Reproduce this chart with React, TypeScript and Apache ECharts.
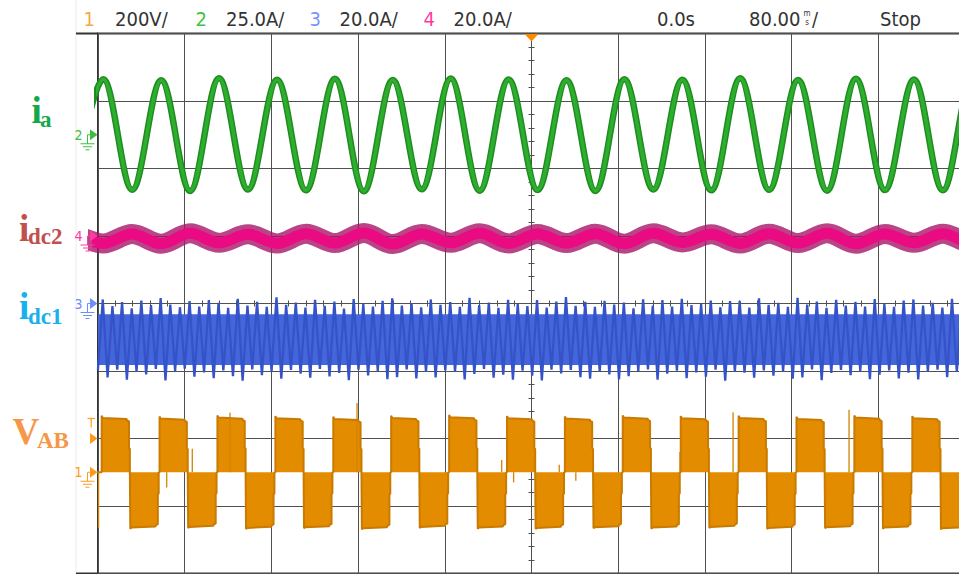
import React, { useEffect, useRef } from "react";
import * as echarts from "echarts";

// ---------- header readouts ----------
const channelNumbers = ["1", "2", "3", "4"];
const channelScaleTexts = ["200V/", "25.0A/", "20.0A/", "20.0A/"];
const triggerTimeText = "0.0s";
const timebaseText = "80.00";
const runStateText = "Stop";

// ---------- channel settings (volts/amps per division, ground offset in divisions) ----------
const scaleVAB = 200;
const scaleIa = 25;
const scaleIdc1 = 20;
const scaleIdc2 = 20;
const offsetVAB = -2.5;
const offsetIa = 2.5;
const offsetIdc1 = 0;
const offsetIdc2 = 1;
const triggerLevelDiv = -2.0;

// ---------- time axis (ms) ----------
const timeMin = -400;
const timeMax = 400;
const timeDiv = 80;

// start of every fundamental cycle (rising edge of the positive VAB pulse), ms
const cycleStarts = [-396.6, -343.2, -289.8, -236.3, -182.9, -129.5, -76.0, -22.6, 30.8, 84.2, 137.7, 191.1, 244.5, 297.9, 351.4, 404.8];

// ---------- ia (A) ----------
const iaPeakTimes = [-395.1, -341.7, -288.3, -234.8, -181.4, -128.0, -74.5, -21.1, 32.3, 85.7, 139.2, 192.6, 246.0, 299.4, 352.9, 406.3];
const iaTroughTimes = [-422.1, -368.4, -315.0, -261.6, -208.1, -154.7, -101.3, -47.8, 5.6, 59.0, 112.4, 165.9, 219.3, 272.7, 326.1, 379.6, 433.0];
const iaPeaks = [20.6, 20.2, 20.9, 20.4, 20.7, 20.3, 20.8, 20.5, 20.2, 20.6, 20.4, 20.9, 20.3, 20.7, 20.5, 20.4];
const iaTroughs = [-20.5, -20.4, -20.8, -20.3, -20.6, -20.9, -20.2, -20.7, -20.5, -20.8, -20.3, -20.6, -20.4, -20.7, -20.5, -20.6, -20.3];

// ---------- idc2 (A): crests at ia troughs, dips at ia peaks ----------
const idc2Dips = [-2.2, -2.3, -2.0, -2.2, -2.1, -2.4, -2.0, -2.2, -2.1, -2.3, -1.9, -2.2, -2.1, -2.3, -2.0, -2.1];
const idc2Crests = [0.7, 0.6, 0.8, 0.5, 0.7, 0.9, 0.6, 0.8, 0.6, 0.7, 0.8, 0.5, 0.7, 0.8, 0.6, 0.7, 0.6];

// ---------- idc1 (A): six ripple periods per fundamental cycle ----------
const idc1SubTimes = [1.0, 9.9, 18.8, 27.7, 36.6, 45.5];
const idc1HalfRipple = 4.45;
const idc1Tops = [
  [1.2, -0.8, 0.4, -1.4, 0.9, -0.5],
  [1.6, -0.3, -1.1, 0.7, -0.9, 1.0],
  [0.2, -1.3, 1.4, -0.6, 0.5, -1.0],
  [1.8, -0.4, 0.3, -1.2, 1.1, -0.7],
  [0.6, -1.5, 1.3, -0.2, -0.9, 0.8],
  [1.5, -0.6, 0.1, -1.1, 1.2, -0.4],
  [0.4, -1.0, 1.7, -0.5, 0.3, -1.3],
  [1.1, -0.2, -0.8, 1.0, -1.2, 0.6],
  [1.9, -0.7, 0.5, -1.0, 0.8, -0.3],
  [0.3, -1.4, 1.2, -0.6, 1.0, -0.9],
  [1.4, -0.5, -0.2, 0.9, -1.1, 0.7],
  [0.8, -1.2, 1.5, -0.4, 0.2, -1.0],
  [1.7, -0.3, 0.6, -1.3, 1.1, -0.6],
  [0.5, -0.9, 1.3, -0.2, -1.0, 0.9],
  [1.2, -0.6, 0.2, -1.2, 1.4, -0.5],
  [0.7, -1.1, 1.0, -0.4, 0.6, -0.8],
];
const idc1Bottoms = [
  [-21.9, -19.6, -22.6, -20.2, -21.0, -19.4],
  [-22.8, -20.0, -19.3, -21.7, -20.4, -22.1],
  [-19.8, -21.5, -22.9, -19.5, -21.2, -20.1],
  [-22.3, -19.7, -20.8, -22.0, -19.4, -21.6],
  [-20.6, -22.7, -19.6, -21.3, -20.0, -22.4],
  [-21.8, -19.5, -22.2, -20.3, -21.9, -19.8],
  [-20.2, -22.5, -20.9, -19.4, -22.0, -21.1],
  [-22.6, -19.9, -21.4, -22.8, -19.6, -20.7],
  [-19.7, -21.8, -22.3, -20.1, -21.0, -22.5],
  [-21.5, -20.0, -19.5, -22.6, -20.8, -19.9],
  [-22.1, -20.4, -21.7, -19.6, -22.9, -20.2],
  [-20.5, -22.0, -19.8, -21.4, -20.1, -22.3],
  [-21.9, -19.5, -22.7, -20.6, -19.7, -21.2],
  [-20.0, -22.4, -21.1, -19.8, -22.2, -20.5],
  [-22.5, -20.2, -19.6, -21.8, -20.3, -22.0],
  [-19.9, -21.6, -22.1, -20.4, -21.3, -19.7],
];
// solid middle of the idc1 ripple band: [top A, bottom A]
const idc1Core = [[-3.2, -18.2]];

// ---------- VAB (V) ----------
const vabPosTop = [161, 159, 162, 160, 158, 161, 163, 160, 159, 162, 160, 161, 158, 162, 160, 161];
const vabNegBottom = [-164, -162, -165, -163, -166, -162, -164, -165, -163, -164, -162, -165, -163, -164, -166, -163];
// pulse outline: [ms after cycle start, fraction of the pulse level]
const vabPosShape = [[0, 0], [0, 1.04], [1.0, 1.0], [23.0, 0.98], [23.5, 0.95], [25.2, 0.94], [25.2, 0.45], [26.0, 0.43], [26.0, 0]];
const vabNegShape = [[26.4, 0], [26.4, 1.02], [27.4, 1.0], [49.6, 0.98], [50.1, 0.95], [51.8, 0.94], [51.8, 0.4], [52.6, 0.38], [52.6, 0]];
// switching spikes: [ms, V]
const vabSpikes = [[-399.5, -166], [-336.6, -45], [-313.0, 70], [-278.2, 176], [-161.0, 205], [-27.5, 36], [-16.5, -30], [25.6, 22], [40.9, -25], [137.0, 60], [186.0, 178], [293.0, 185]];

// ---------- styling ----------
const GRID = "#505050";
const HEADER_FONT = '"DejaVu Sans Condensed", "Liberation Sans Narrow", "Roboto Condensed", sans-serif';
const SERIF = '"Liberation Serif", "Times New Roman", serif';

function buildSeriesData() {
  const ia: number[][] = [[iaTroughTimes[0], iaTroughs[0]]];
  const idc2: number[][] = [[iaTroughTimes[0], idc2Crests[0]]];
  for (let k = 0; k < iaPeakTimes.length; k++) {
    ia.push([iaPeakTimes[k], iaPeaks[k]]);
    ia.push([iaTroughTimes[k + 1], iaTroughs[k + 1]]);
    idc2.push([iaPeakTimes[k], idc2Dips[k]]);
    idc2.push([iaTroughTimes[k + 1], idc2Crests[k + 1]]);
  }
  const idc1: number[][] = [[cycleStarts[0] + idc1SubTimes[0] - idc1HalfRipple, idc1Bottoms[15][5]]];
  cycleStarts.forEach((c, k) => {
    idc1SubTimes.forEach((dt, j) => {
      idc1.push([c + dt, idc1Tops[k][j]]);
      idc1.push([c + dt + idc1HalfRipple, idc1Bottoms[k][j]]);
    });
  });
  const vab: number[][] = [[timeMin - 10, 0]];
  cycleStarts.forEach((c, k) => {
    vabPosShape.forEach(([dt, f]) => vab.push([c + dt, f * vabPosTop[k]]));
    vabNegShape.forEach(([dt, f]) => vab.push([c + dt, f * vabNegBottom[k]]));
  });
  return { ia, idc2, idc1, vab };
}

function chAxis(offset: number, scale: number) {
  return { type: "value", min: (-4 - offset) * scale, max: (4 - offset) * scale, show: false, splitLine: { show: false } };
}

function buildOption(): any {
  const d = buildSeriesData();
  const tickStyle = { color: GRID, width: 1 };
  const xBase = { type: "value", min: timeMin, max: timeMax, interval: timeDiv, axisLabel: { show: false } };
  const yBase = { type: "value", min: -4, max: 4, interval: 1, axisLabel: { show: false } };
  return {
    animation: false,
    backgroundColor: "#ffffff",
    grid: {
      left: 98, top: 33.5, width: 867, height: 540,
      show: true, borderColor: "#333", borderWidth: 2, backgroundColor: "transparent",
      outerBoundsMode: "none", containLabel: false,
    },
    xAxis: [
      {
        ...xBase, position: "bottom",
        axisLine: { show: true, onZero: true, onZeroAxisIndex: 0, lineStyle: tickStyle },
        axisTick: { show: true, inside: true, length: 3, lineStyle: tickStyle },
        minorTick: { show: true, splitNumber: 5, length: 3, lineStyle: tickStyle },
        splitLine: { show: true, lineStyle: { color: GRID, width: 1 } },
      },
      {
        ...xBase, position: "bottom",
        axisLine: { show: false, onZero: true, onZeroAxisIndex: 0 },
        axisTick: { show: true, inside: false, length: 3, lineStyle: tickStyle },
        minorTick: { show: true, splitNumber: 5, length: 3, lineStyle: tickStyle },
        splitLine: { show: false },
      },
    ],
    yAxis: [
      {
        ...yBase, position: "left",
        axisLine: { show: true, onZero: true, onZeroAxisIndex: 0, lineStyle: tickStyle },
        axisTick: { show: true, inside: true, length: 3, lineStyle: tickStyle },
        minorTick: { show: true, splitNumber: 5, length: 3, lineStyle: tickStyle },
        splitLine: { show: true, lineStyle: { color: GRID, width: 1 } },
      },
      {
        ...yBase, position: "left",
        axisLine: { show: false, onZero: true, onZeroAxisIndex: 0 },
        axisTick: { show: true, inside: false, length: 3, lineStyle: tickStyle },
        minorTick: { show: true, splitNumber: 5, length: 3, lineStyle: tickStyle },
        splitLine: { show: false },
      },
      chAxis(offsetVAB, scaleVAB),
      chAxis(offsetIa, scaleIa),
      chAxis(offsetIdc1, scaleIdc1),
      chAxis(offsetIdc2, scaleIdc2),
    ],
    series: [
      {
        name: "VAB", type: "line", xAxisIndex: 0, yAxisIndex: 2, data: d.vab,
        symbol: "none", showSymbol: false,
        lineStyle: { color: "#c97a00", width: 2 },
        areaStyle: { color: "#e38c00", opacity: 1 },
        z: 3,
      },
      {
        name: "VAB spikes", type: "custom", xAxisIndex: 0, yAxisIndex: 2, data: vabSpikes,
        renderItem: (_p: any, api: any) => {
          const p0 = api.coord([api.value(0), 0]);
          const p1 = api.coord([api.value(0), api.value(1)]);
          return { type: "line", shape: { x1: p0[0], y1: p0[1], x2: p1[0], y2: p1[1] }, style: { stroke: "#d48300", lineWidth: 1.3 } };
        },
        z: 3,
      },
      {
        name: "idc1 core", type: "custom", xAxisIndex: 0, yAxisIndex: 4, data: idc1Core,
        renderItem: (_p: any, api: any) => {
          const a = api.coord([timeMin, api.value(0)]);
          const b = api.coord([timeMax, api.value(1)]);
          return { type: "rect", shape: { x: a[0], y: a[1], width: b[0] - a[0], height: b[1] - a[1] }, style: { fill: "#4566da" } };
        },
        z: 3,
      },
      {
        name: "idc1", type: "line", xAxisIndex: 0, yAxisIndex: 4, data: d.idc1,
        symbol: "none", lineStyle: { color: "#3453c8", width: 2.3 }, z: 4,
      },
      {
        name: "idc2 fuzz", type: "line", xAxisIndex: 0, yAxisIndex: 5, data: d.idc2, smooth: 0.35,
        symbol: "none", lineStyle: { color: "#a8156a", width: 20, opacity: 0.8 }, z: 4,
      },
      {
        name: "idc2", type: "line", xAxisIndex: 0, yAxisIndex: 5, data: d.idc2, smooth: 0.35,
        symbol: "none", lineStyle: { color: "#ea0a82", width: 11 }, z: 5,
      },
      {
        name: "ia outline", type: "line", xAxisIndex: 0, yAxisIndex: 3, data: d.ia, smooth: 0.35,
        symbol: "none", lineStyle: { color: "#1f8c1f", width: 6.5 }, z: 5,
      },
      {
        name: "ia", type: "line", xAxisIndex: 0, yAxisIndex: 3, data: d.ia, smooth: 0.35,
        symbol: "none", lineStyle: { color: "#2eae2e", width: 3.5 }, z: 6,
      },
    ],
  };
}

function headerText(text: string, x: number, fill: string, size = 20) {
  return { type: "text", x, y: 18.8, z: 50, style: { text, fill, fontSize: size, fontFamily: HEADER_FONT, align: "left", verticalAlign: "middle" } };
}

function sideLabel(main: string, sub: string, x: number, baseline: number, subX: number, subBaseline: number, fill: string) {
  return [
    { type: "text", x, y: baseline - 11.3, z: 50, style: { text: main, fill, fontSize: 37, fontWeight: "bold", fontFamily: SERIF, align: "left", verticalAlign: "middle" } },
    { type: "text", x: subX, y: subBaseline - 7, z: 50, style: { text: sub, fill, fontSize: 23, fontWeight: "bold", fontFamily: SERIF, align: "left", verticalAlign: "middle" } },
  ];
}

function groundMarker(num: string, y0: number, color: string) {
  const ls = { stroke: color, lineWidth: 1 };
  return [
    { type: "text", x: 78.5, y: y0, z: 50, style: { text: num, fill: color, fontSize: 14, fontFamily: HEADER_FONT, align: "center", verticalAlign: "middle" } },
    { type: "polygon", z: 50, shape: { points: [[90, y0 - 5.5], [97.5, y0], [90, y0 + 5.5]] }, style: { fill: color } },
    { type: "polyline", z: 50, shape: { points: [[90, y0], [87.5, y0], [87.5, y0 + 9]] }, style: { ...ls, fill: "none" } },
    { type: "line", z: 50, shape: { x1: 80.5, y1: y0 + 9, x2: 94.5, y2: y0 + 9 }, style: ls },
    { type: "line", z: 50, shape: { x1: 83, y1: y0 + 12, x2: 92, y2: y0 + 12 }, style: ls },
    { type: "line", z: 50, shape: { x1: 85.5, y1: y0 + 15, x2: 89.5, y2: y0 + 15 }, style: ls },
  ];
}

function buildGraphics(chart: any): any[] {
  const py = (v: number) => chart.convertToPixel({ yAxisIndex: 0 }, v) as number;
  const px = (v: number) => chart.convertToPixel({ xAxisIndex: 0 }, v) as number;
  const top = py(4);
  const bottom = py(-4);
  const left = px(timeMin);
  const xTrig = px(0);
  const yT = py(triggerLevelDiv);
  const orange = "#ff9a1f";
  return [
    { type: "line", z: 40, shape: { x1: 76, y1: 0, x2: 76, y2: 574 }, style: { stroke: "#ececec", lineWidth: 1 } },
    { type: "line", z: 40, shape: { x1: 76, y1: top, x2: left, y2: top }, style: { stroke: "#333", lineWidth: 2 } },
    { type: "line", z: 40, shape: { x1: 76, y1: bottom, x2: left, y2: bottom }, style: { stroke: "#333", lineWidth: 2 } },
    headerText(channelNumbers[0], 83.5, "#f7a849"),
    headerText(channelScaleTexts[0], 115, "#333"),
    headerText(channelNumbers[1], 195.5, "#3fc23f"),
    headerText(channelScaleTexts[1], 226, "#333"),
    headerText(channelNumbers[2], 309.5, "#7a93ff"),
    headerText(channelScaleTexts[2], 339.5, "#333"),
    headerText(channelNumbers[3], 423.5, "#ff3a9c"),
    headerText(channelScaleTexts[3], 453.5, "#333"),
    headerText(triggerTimeText, 657, "#333"),
    headerText(timebaseText, 749, "#333"),
    { type: "text", x: 807, y: 13, z: 50, style: { text: "m", fill: "#333", fontSize: 8, fontFamily: HEADER_FONT, align: "center", verticalAlign: "middle" } },
    { type: "text", x: 807, y: 22, z: 50, style: { text: "s", fill: "#333", fontSize: 8, fontFamily: HEADER_FONT, align: "center", verticalAlign: "middle" } },
    headerText("/", 812, "#333"),
    headerText(runStateText, 880, "#333"),
    { type: "polygon", z: 50, shape: { points: [[xTrig - 7, top + 0.5], [xTrig + 7, top + 0.5], [xTrig, top + 8]] }, style: { fill: "#ff8a00" } },
    ...sideLabel("i", "a", 31.5, 122, 40, 126, "#14a84b"),
    ...sideLabel("i", "dc2", 19, 240, 28, 243, "#c0504d"),
    ...sideLabel("i", "dc1", 19, 318, 28, 323, "#1ab0ec"),
    ...sideLabel("V", "AB", 12.5, 443, 37, 447, "#f79646"),
    ...groundMarker(channelNumbers[1], py(offsetIa), "#3cc03c"),
    ...groundMarker(channelNumbers[3], py(offsetIdc2), "#ff3aa0"),
    ...groundMarker(channelNumbers[2], py(offsetIdc1), "#6f8cff"),
    ...groundMarker(channelNumbers[0], py(offsetVAB), orange),
    { type: "polygon", z: 50, shape: { points: [[90, yT - 5.5], [97.5, yT], [90, yT + 5.5]] }, style: { fill: orange } },
    { type: "line", z: 50, shape: { x1: 87.5, y1: yT - 20, x2: 95, y2: yT - 20 }, style: { stroke: orange, lineWidth: 1.2 } },
    { type: "line", z: 50, shape: { x1: 91.2, y1: yT - 20, x2: 91.2, y2: yT - 11 }, style: { stroke: orange, lineWidth: 1.2 } },
  ];
}

export default function App() {
  const ref = useRef<HTMLDivElement>(null);
  useEffect(() => {
    if (!ref.current) return;
    const chart = echarts.init(ref.current, undefined, { renderer: "svg", width: 959, height: 574 });
    chart.setOption(buildOption());
    chart.setOption({ graphic: buildGraphics(chart) });
    return () => chart.dispose();
  }, []);
  return <div ref={ref} style={{ position: "fixed", left: 0, top: 0, width: 959, height: 574, background: "#fff", overflow: "hidden" }} />;
}
